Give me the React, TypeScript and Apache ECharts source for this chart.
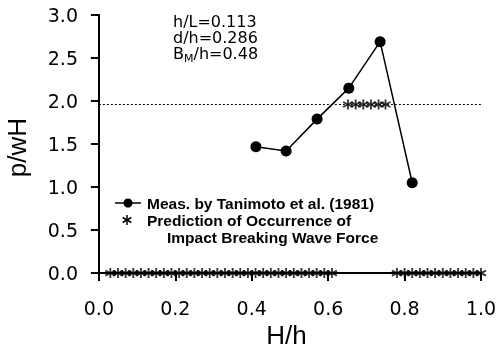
import React, { useEffect, useRef } from "react";
import * as echarts from "echarts";

const measX = [0.411, 0.49, 0.571, 0.654, 0.736, 0.82];
const measY = [1.47, 1.42, 1.79, 2.15, 2.69, 1.05];

const predLowX = [0.03, 0.05, 0.07, 0.09, 0.11, 0.13, 0.15, 0.17, 0.19, 0.21, 0.23, 0.25, 0.27, 0.29, 0.31, 0.33, 0.35, 0.37, 0.39, 0.41, 0.43, 0.45, 0.47, 0.49, 0.51, 0.53, 0.55, 0.57, 0.59, 0.61];
const predHighX = [0.78, 0.8, 0.82, 0.84, 0.86, 0.88, 0.9, 0.92, 0.94, 0.96, 0.98, 1.0];
const predMidX = [0.652, 0.672, 0.692, 0.712, 0.732, 0.75];
const predMidY = 1.96;
const thresholdX = [0.0, 1.0];
const thresholdY = 1.96;

const xTicks = [0, 0.2, 0.4, 0.6, 0.8, 1.0];
const yTicks = [0, 0.5, 1.0, 1.5, 2.0, 2.5, 3.0];

const WIDE = "'DejaVu Sans', sans-serif";
const NARROW = "'Liberation Sans', Arial, sans-serif";
const AST = "path://M5,0L5,10M0.67,2.5L9.33,7.5M0.67,7.5L9.33,2.5";

export default function App() {
  const ref = useRef<HTMLDivElement>(null);
  useEffect(() => {
    if (!ref.current) return;
    const chart = echarts.init(ref.current, null, { renderer: "svg" });
    const astStyle = { color: "#000", borderColor: "#000", borderWidth: 1.8 };
    const legendText = (x: number, y: number, s: string) => ({
      type: "text",
      x,
      y,
      style: { text: s, font: `bold 15.5px ${NARROW}`, fill: "#000", verticalAlign: "middle" },
    });
    const note = (x: number, y: number, s: string, size = 16) => ({
      type: "text",
      x,
      y,
      style: { text: s, font: `${size}px ${WIDE}`, fill: "#000", verticalAlign: "middle" },
    });
    chart.setOption({
      animation: false,
      grid: { left: 92, top: 15, width: 389, height: 265, containLabel: false, outerBoundsMode: "none" },
      xAxis: {
        type: "value",
        min: -0.018,
        max: 1.0,
        splitLine: { show: false },
        axisLine: { lineStyle: { color: "#000", width: 2 } },
        axisTick: { customValues: xTicks, length: 8, lineStyle: { color: "#000", width: 2 } },
        axisLabel: {
          customValues: xTicks,
          formatter: (v: number) => v.toFixed(1),
          fontSize: 19,
          fontFamily: WIDE,
          color: "#000",
          margin: 18,
        },
        name: "H/h",
        nameLocation: "middle",
        nameGap: 38,
        nameTextStyle: { fontSize: 26, fontFamily: NARROW, color: "#000" },
      },
      yAxis: {
        type: "value",
        min: -0.08,
        max: 3.0,
        splitLine: { show: false },
        axisLine: { lineStyle: { color: "#000", width: 2 } },
        axisTick: { customValues: yTicks, length: 8, lineStyle: { color: "#000", width: 2 } },
        axisLabel: {
          customValues: yTicks,
          formatter: (v: number) => v.toFixed(1),
          fontSize: 19,
          fontFamily: WIDE,
          color: "#000",
          margin: 14,
        },
        name: "p/wH",
        nameLocation: "middle",
        nameRotate: 90,
        nameGap: 62,
        nameTextStyle: { fontSize: 26, fontFamily: NARROW, color: "#000" },
      },
      series: [
        {
          type: "line",
          data: thresholdX.map((x) => [x, thresholdY]),
          symbol: "none",
          lineStyle: { color: "#000", width: 1, type: [2, 2] },
          silent: true,
        },
        {
          type: "line",
          data: measX.map((x, i) => [x, measY[i]]),
          symbol: "circle",
          symbolSize: 11,
          itemStyle: { color: "#000" },
          lineStyle: { color: "#000", width: 1.5 },
        },
        {
          type: "scatter",
          data: predLowX.map((x) => [x, 0]),
          symbol: AST,
          symbolSize: 10,
          itemStyle: astStyle,
        },
        {
          type: "scatter",
          data: predHighX.map((x) => [x, 0]),
          symbol: AST,
          symbolSize: 10,
          itemStyle: astStyle,
        },
        {
          type: "scatter",
          data: predMidX.map((x) => [x, predMidY]),
          symbol: AST,
          symbolSize: 10,
          itemStyle: astStyle,
        },
      ],
      graphic: [
        note(173, 21, "h/L=0.113"),
        note(173, 37, "d/h=0.286"),
        note(173, 53, "B"),
        note(184, 58, "M", 11),
        note(193.5, 53, "/h=0.48"),
        { type: "line", shape: { x1: 115, y1: 203, x2: 141, y2: 203 }, style: { stroke: "#000", lineWidth: 1.5 } },
        { type: "circle", shape: { cx: 128, cy: 203, r: 4.5 }, style: { fill: "#000" } },
        legendText(147, 203, "Meas. by Tanimoto et al. (1981)"),
        { type: "line", shape: { x1: 127, y1: 215, x2: 127, y2: 225 }, style: { stroke: "#000", lineWidth: 1.5 } },
        { type: "line", shape: { x1: 122.7, y1: 217.5, x2: 131.3, y2: 222.5 }, style: { stroke: "#000", lineWidth: 1.5 } },
        { type: "line", shape: { x1: 122.7, y1: 222.5, x2: 131.3, y2: 217.5 }, style: { stroke: "#000", lineWidth: 1.5 } },
        legendText(147, 220, "Prediction of Occurrence of"),
        legendText(167, 237, "Impact Breaking Wave Force"),
      ],
    });
    return () => chart.dispose();
  }, []);
  return <div ref={ref} style={{ position: "fixed", left: 0, top: 0, width: 499, height: 349 }} />;
}
